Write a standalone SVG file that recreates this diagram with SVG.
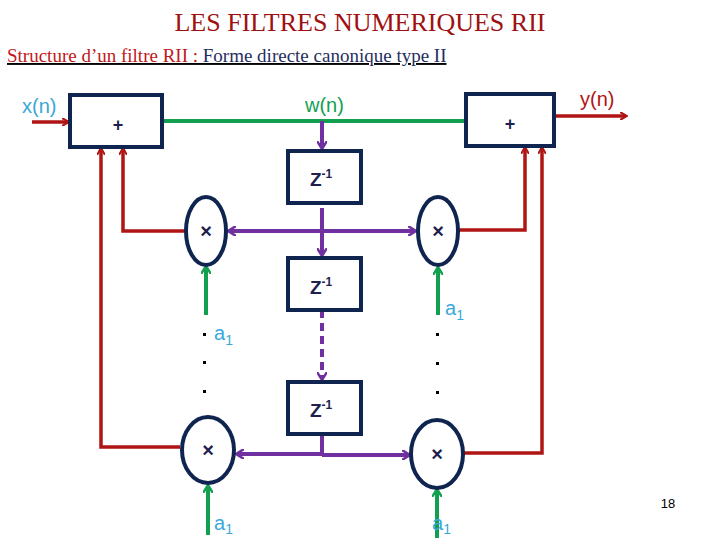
<svg xmlns="http://www.w3.org/2000/svg" width="720" height="540" viewBox="0 0 720 540">
<style>
.box{fill:#fff;stroke:#0f2550;stroke-width:4}
.r{stroke:#b01515;stroke-width:3.5;fill:none}
.g{stroke:#12a050;stroke-width:4;fill:none}
.p{stroke:#7030a0;stroke-width:4;fill:none}
.sym{font-family:'Liberation Sans',Arial,sans-serif;font-weight:bold;fill:#1f1f4f}
.lab{font-family:'Liberation Sans',Arial,sans-serif;font-size:20px;fill:#3aa8d8}
.dot{fill:#000}
</style>
<defs>
<marker id="ar" markerWidth="8" markerHeight="8" refX="6" refY="4" orient="auto" markerUnits="userSpaceOnUse" viewBox="0 0 8 8"><path d="M0,0 L7,4 L0,8" fill="none" stroke="#b01515" stroke-width="2"/></marker>
<marker id="ag" markerWidth="10" markerHeight="10" refX="7" refY="5" orient="auto" markerUnits="userSpaceOnUse" viewBox="0 0 10 10"><path d="M0,0 L8,5 L0,10" fill="none" stroke="#12a050" stroke-width="2.5"/></marker>
<marker id="ap" markerWidth="10" markerHeight="10" refX="7" refY="5" orient="auto" markerUnits="userSpaceOnUse" viewBox="0 0 10 10"><path d="M0,0 L8,5 L0,10" fill="none" stroke="#7030a0" stroke-width="2.5"/></marker>
</defs>
<text x="360" y="31" text-anchor="middle" font-family="'Liberation Serif',serif" font-size="26" fill="#a01010">LES FILTRES NUMERIQUES RII</text>
<text x="7" y="62" font-family="'Liberation Serif',serif" font-size="19" text-decoration="underline"><tspan fill="#c01818">Structure d’un filtre RII :</tspan><tspan fill="#1f2f60"> Forme directe canonique type II</tspan></text>
<g id="connectors">
<line class="r" x1="32" y1="122" x2="68" y2="122" marker-end="url(#ar)"/>
<line class="r" x1="554" y1="116" x2="626" y2="116" marker-end="url(#ar)"/>
<line class="g" x1="162" y1="121" x2="466" y2="121"/>
<line class="p" x1="322" y1="121" x2="322" y2="148" marker-end="url(#ap)"/>
<line class="p" x1="322" y1="208" x2="322" y2="255" marker-end="url(#ap)"/>
<line class="p" x1="322" y1="231" x2="229" y2="231" marker-end="url(#ap)"/>
<line class="p" x1="322" y1="231" x2="415" y2="231" marker-end="url(#ap)"/>
<line class="p" x1="322" y1="310" x2="322" y2="379" stroke-dasharray="8,5" marker-end="url(#ap)"/>
<polyline class="p" points="322,434 322,455"/>
<line class="p" x1="322" y1="454" x2="237" y2="454" marker-end="url(#ap)"/>
<line class="p" x1="322" y1="455" x2="409" y2="455" marker-end="url(#ap)"/>
<polyline class="r" points="186,231 123,231 123,149" marker-end="url(#ar)"/>
<polyline class="r" points="180,447 101,447 101,149" marker-end="url(#ar)"/>
<polyline class="r" points="458,230 525,230 525,148" marker-end="url(#ar)"/>
<polyline class="r" points="463,453 542,453 542,148" marker-end="url(#ar)"/>
<line class="g" x1="206" y1="315" x2="206" y2="267" marker-end="url(#ag)"/>
<line class="g" x1="438" y1="315" x2="438" y2="268" marker-end="url(#ag)"/>
<line class="g" x1="208" y1="535" x2="208" y2="486" marker-end="url(#ag)"/>
<line class="g" x1="437" y1="538" x2="437" y2="490" marker-end="url(#ag)"/>
</g>
<g id="add1"><rect class="box" x="70" y="95" width="92" height="52"/><text class="sym" x="118" y="131" font-size="18" text-anchor="middle">+</text></g>
<g id="add2"><rect class="box" x="466" y="94" width="88" height="52"/><text class="sym" x="510" y="130" font-size="18" text-anchor="middle">+</text></g>
<g id="z1"><rect class="box" x="288" y="151" width="73" height="52"/><text class="sym" x="310" y="186" font-size="19">Z<tspan font-size="12" dy="-8">-1</tspan></text></g>
<g id="z2"><rect class="box" x="288" y="258" width="73" height="52"/><text class="sym" x="310" y="294" font-size="19">Z<tspan font-size="12" dy="-8">-1</tspan></text></g>
<g id="z3"><rect class="box" x="288" y="382" width="73" height="52"/><text class="sym" x="310" y="417" font-size="19">Z<tspan font-size="12" dy="-8">-1</tspan></text></g>
<g id="m1"><ellipse class="box" cx="206" cy="231" rx="20" ry="34"/><text class="sym" x="206" y="238" font-size="20" text-anchor="middle">×</text></g>
<g id="m2"><ellipse class="box" cx="438" cy="231" rx="20" ry="34"/><text class="sym" x="438" y="238" font-size="20" text-anchor="middle">×</text></g>
<g id="m3"><ellipse class="box" cx="208" cy="450" rx="26" ry="33"/><text class="sym" x="208" y="457" font-size="20" text-anchor="middle">×</text></g>
<g id="m4"><ellipse class="box" cx="437" cy="454" rx="26" ry="34"/><text class="sym" x="437" y="461" font-size="20" text-anchor="middle">×</text></g>
<text class="lab" x="22" y="113" font-size="19">x(n)</text>
<text x="305" y="112" font-family="'Liberation Sans',Arial,sans-serif" font-size="20" fill="#12a050">w(n)</text>
<text x="580" y="106" font-family="'Liberation Sans',Arial,sans-serif" font-size="20" fill="#b01515">y(n)</text>
<text class="lab" x="214" y="340">a<tspan font-size="14" dy="5">1</tspan></text>
<text class="lab" x="445" y="315">a<tspan font-size="14" dy="5">1</tspan></text>
<text class="lab" x="214" y="530">a<tspan font-size="14" dy="4">1</tspan></text>
<text class="lab" x="432" y="530">a<tspan font-size="14" dy="4">1</tspan></text>
<g class="dot"><rect x="203" y="333" width="3" height="3"/><rect x="203" y="361" width="3" height="3"/><rect x="203" y="390" width="3" height="3"/><rect x="436" y="333" width="3" height="3"/><rect x="436" y="362" width="3" height="3"/><rect x="436" y="391" width="3" height="3"/></g>
<text x="668" y="508" text-anchor="middle" font-family="'Liberation Sans',Arial,sans-serif" font-size="13" fill="#000">18</text>
</svg>
